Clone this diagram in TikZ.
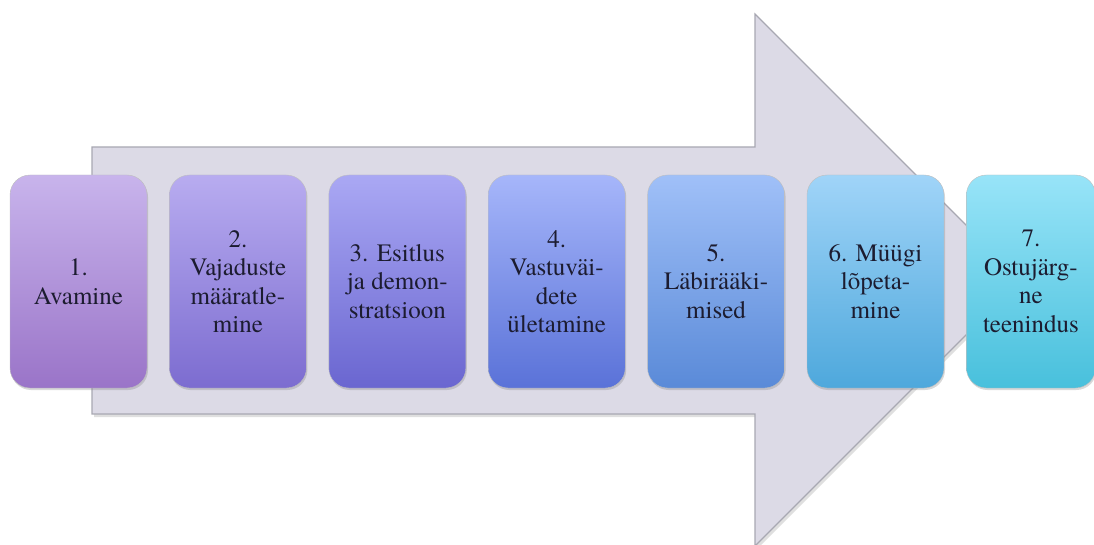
\documentclass[tikz,border=0pt]{standalone}
\usepackage{fontspec}
\newfontfamily\stepfont{texgyretermes-regular.otf}
\usepackage{tikz}
\usetikzlibrary{positioning, shadows}

\definecolor{arrowfill}{HTML}{DCDAE6}
\definecolor{arrowline}{HTML}{A8A8B2}
\definecolor{steptext}{HTML}{1C1C30}
\definecolor{topA}{HTML}{C8B4EC}\definecolor{botA}{HTML}{9A74C8}
\definecolor{topB}{HTML}{B8ACF0}\definecolor{botB}{HTML}{7C6CD0}
\definecolor{topC}{HTML}{AAA8F4}\definecolor{botC}{HTML}{6A66D0}
\definecolor{topD}{HTML}{A6B6FA}\definecolor{botD}{HTML}{5A72D8}
\definecolor{topE}{HTML}{A0C0F8}\definecolor{botE}{HTML}{5A8AD8}
\definecolor{topF}{HTML}{A0D4F8}\definecolor{botF}{HTML}{4EA8DC}
\definecolor{topG}{HTML}{98E4F8}\definecolor{botG}{HTML}{48C0DC}

\tikzset{
    arrowbody/.style={fill=arrowfill, draw=arrowline, line width=1.2pt,
        drop shadow={opacity=0.25, shadow xshift=2pt, shadow yshift=-3pt}},
    stepbox/.style={rounded corners=20pt, minimum width=137pt, minimum height=213pt,
        inner sep=0pt, align=center, text=steptext, draw=black!25, line width=0.4pt,
        font=\stepfont\fontsize{25}{28.5}\selectfont,
        drop shadow={opacity=0.3, shadow xshift=1pt, shadow yshift=-2pt}},
}

\begin{document}
\begin{tikzpicture}[x=1pt, y=-1pt]
    \useasboundingbox (0,0) rectangle (1094,545);

    % Big background arrow
    \draw[arrowbody] (92,147) -- (755,147) -- (755,14) -- (1021,280)
        -- (755,546) -- (755,414) -- (92,414) -- cycle;

    % Steps of the sale
    \node[stepbox, top color=topA, bottom color=botA] (avamine) at (78.5,281.5) {1.\\Avamine};
    \node[stepbox, top color=topB, bottom color=botB, right=22pt of avamine] (vajadused) {2.\\Vajaduste\\määratle-\\mine};
    \node[stepbox, top color=topC, bottom color=botC, right=22pt of vajadused] (esitlus) {3. Esitlus\\ja demon-\\stratsioon};
    \node[stepbox, top color=topD, bottom color=botD, right=22pt of esitlus] (vastuv) {4.\\Vastuväi-\\dete\\ületamine};
    \node[stepbox, top color=topE, bottom color=botE, right=22pt of vastuv] (labir) {5.\\Läbirääki-\\mised};
    \node[stepbox, top color=topF, bottom color=botF, right=22pt of labir] (lopetamine) {6. Müügi\\lõpeta-\\mine};
    \node[stepbox, top color=topG, bottom color=botG, minimum width=129pt, right=22pt of lopetamine] (teenindus) {7.\\Ostujärg-\\ne\\teenindus};
\end{tikzpicture}
\end{document}
